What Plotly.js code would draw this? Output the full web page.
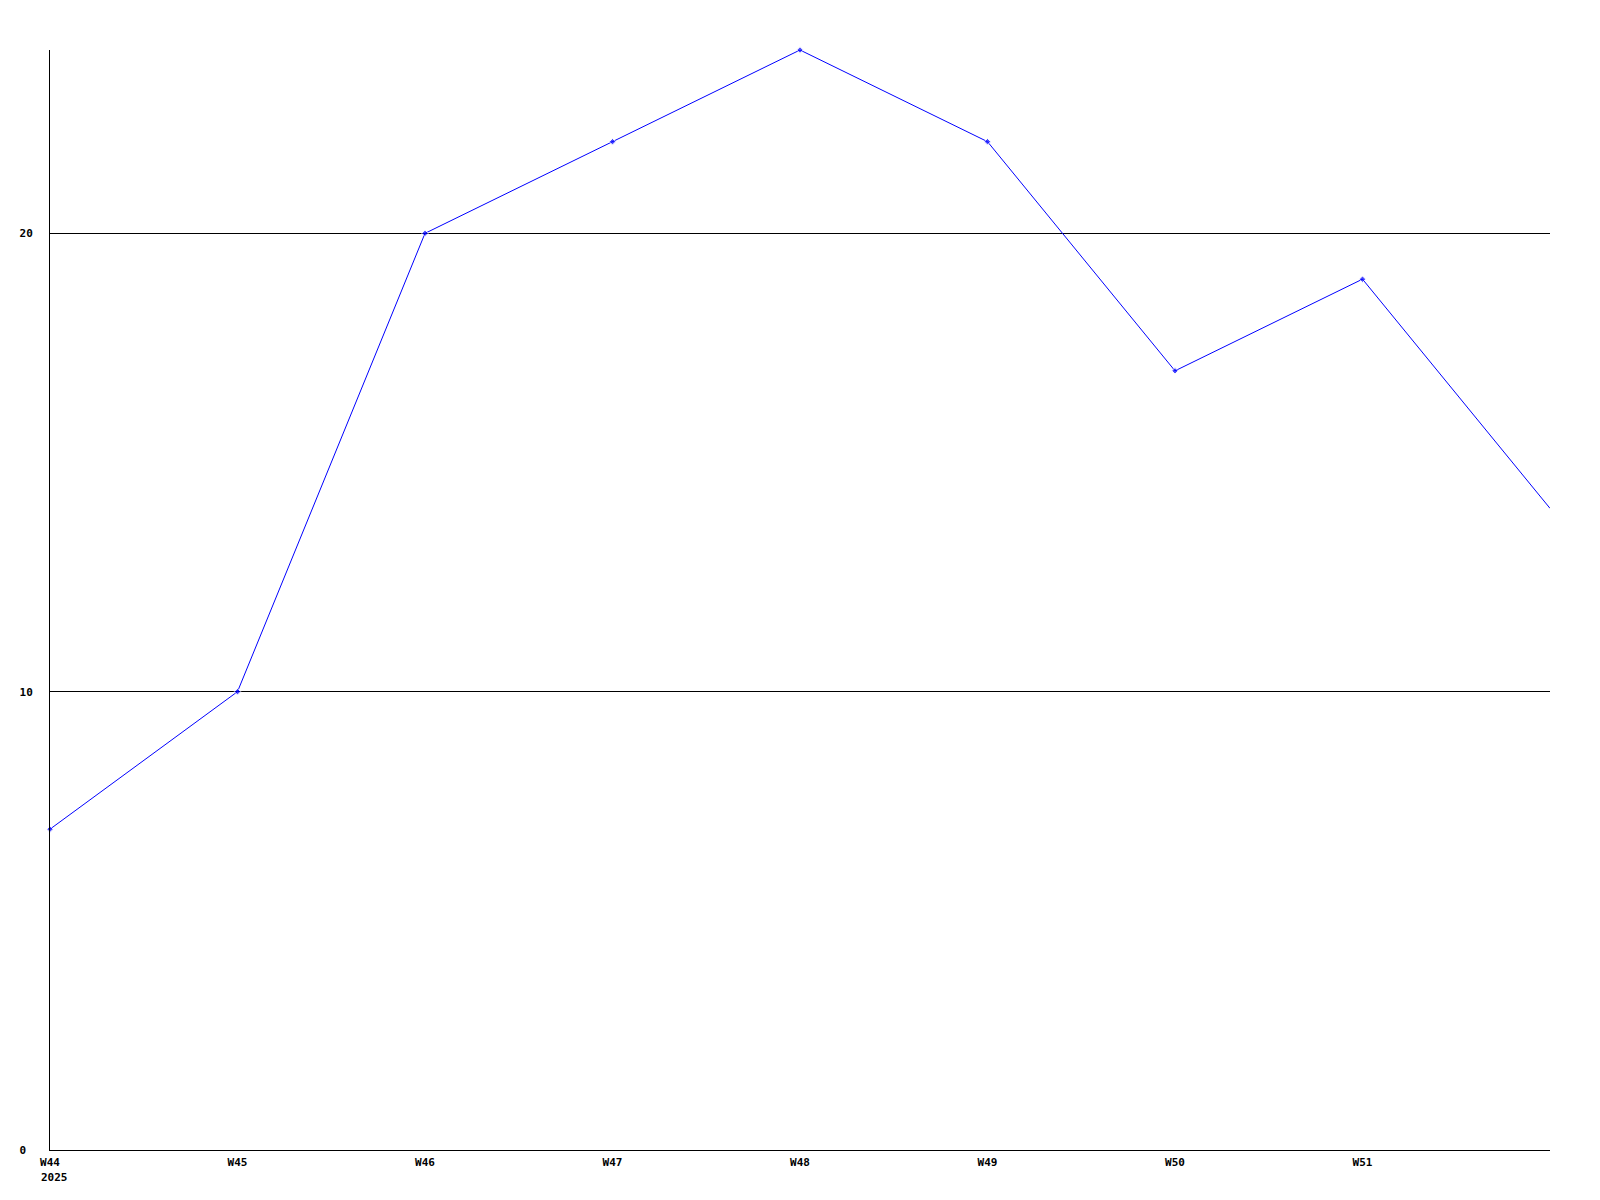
<!DOCTYPE html>
<html>
<head>
<meta charset="utf-8">
<script src="https://cdn.plot.ly/plotly-3.0.1.min.js"></script>
<style>
html,body{margin:0;padding:0;background:#fff;}
#chart{width:1600px;height:1200px;}
</style>
</head>
<body>
<div id="chart"></div>
<script>
const weeks = ["W44","W45","W46","W47","W48","W49","W50","W51","W52"];
const values = [7, 10, 20, 22, 24, 22, 17, 19, 14];
const tickWeeks = ["W44","W45","W46","W47","W48","W49","W50","W51"];
const tickLabels = ["W44","W45","W46","W47","W48","W49","W50","W51"];
const yearLabel = "2025";
const yTicks = [0, 10, 20];

const markerSizes = values.map((v, i) => i === values.length - 1 ? 0 : 5);

const trace = {
  x: weeks,
  y: values,
  type: "scatter",
  mode: "lines+markers",
  line: {color: "#0000ff", width: 1},
  marker: {color: "#0000ff", size: markerSizes, symbol: "diamond"},
  cliponaxis: false,
  hoverinfo: "x+y"
};

const tickFont = {family: "DejaVu Sans Mono", size: 11, color: "#000", weight: "bold"};

const layout = {
  width: 1600,
  height: 1200,
  margin: {l: 50, r: 50, t: 50, b: 50},
  paper_bgcolor: "#fff",
  plot_bgcolor: "#fff",
  showlegend: false,
  xaxis: {
    type: "category",
    categoryarray: weeks,
    range: [0, 8],
    tickmode: "array",
    tickvals: tickWeeks,
    ticktext: tickLabels,
    showgrid: false,
    zeroline: false,
    showline: true,
    linecolor: "#000",
    linewidth: 1,
    ticks: "",
    tickfont: tickFont,
    ticklabelstandoff: 2,
    fixedrange: true
  },
  yaxis: {
    range: [0, 24],
    tickmode: "array",
    tickvals: yTicks,
    ticktext: yTicks.map(v => String(v).padEnd(2, "\u00a0")),
    showgrid: true,
    gridcolor: "#000",
    gridwidth: 1,
    zeroline: false,
    showline: true,
    linecolor: "#000",
    linewidth: 1,
    ticks: "",
    tickfont: tickFont,
    ticklabelstandoff: 14,
    fixedrange: true
  },
  annotations: [{
    x: tickWeeks[0],
    y: 0,
    xref: "x",
    yref: "y",
    text: yearLabel,
    showarrow: false,
    xanchor: "left",
    yanchor: "middle",
    xshift: -11,
    yshift: -27,
    font: tickFont
  }]
};

Plotly.newPlot("chart", [trace], layout, {displayModeBar: false, staticPlot: true});
</script>
</body>
</html>
